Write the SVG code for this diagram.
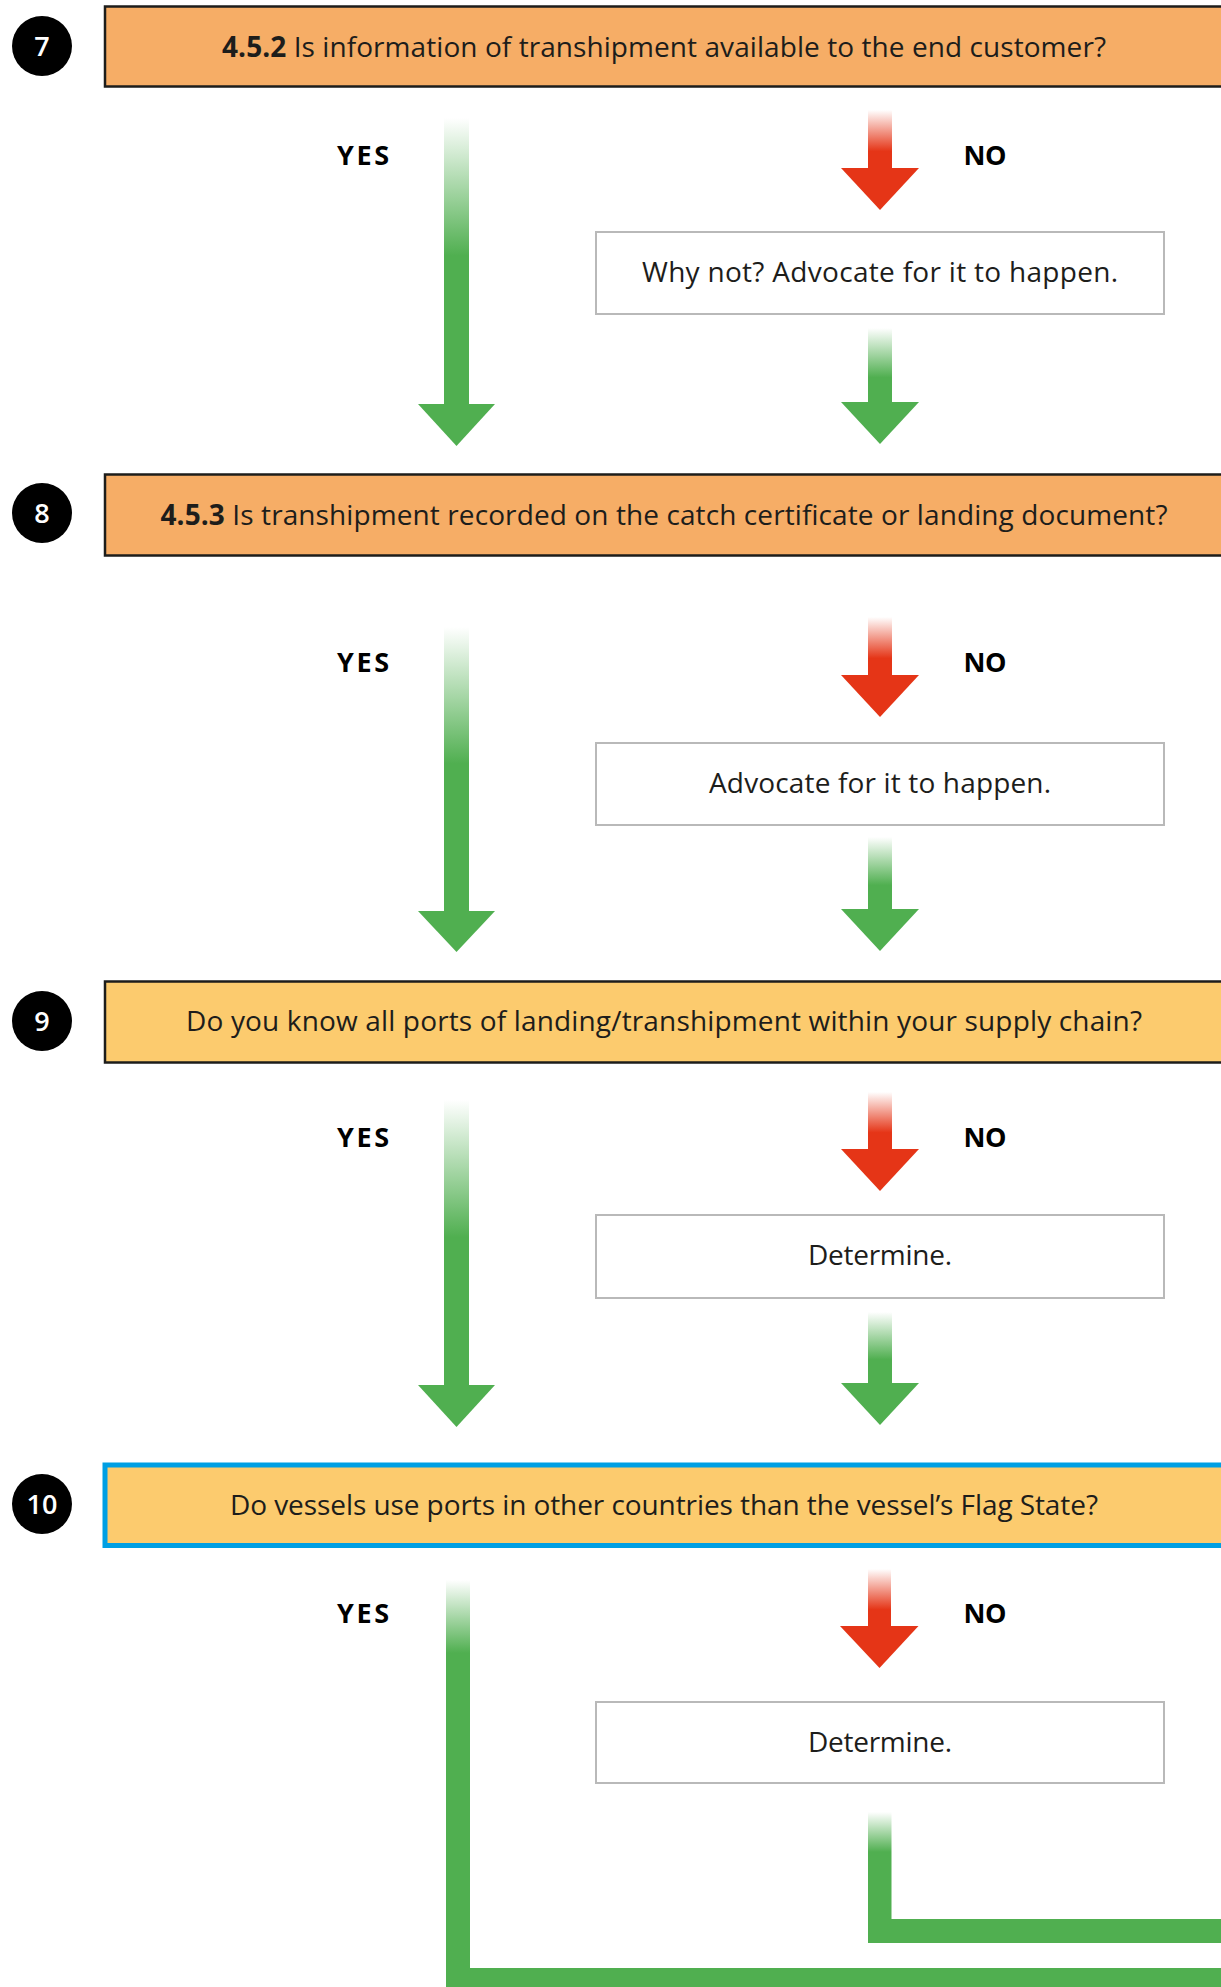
<svg xmlns="http://www.w3.org/2000/svg" width="1221" height="1987" viewBox="0 0 1221 1987">
  <style>
    .q { stroke: #1d1d1b; stroke-width: 2.5; }
    .orange { fill: #F6AD66; }
    .yellow { fill: #FCCB6E; }
    .blue { fill: #FCCB6E; stroke: #009FE3; stroke-width: 5; }
    .act { fill: #ffffff; stroke: #b9b9b9; stroke-width: 2; }
    .num { fill: #000000; }
    .numt { fill: #ffffff; font-family: "Open Sans", "Noto Sans", sans-serif; font-size: 27px; font-weight: 600; text-anchor: middle; }
    .qt { fill: #1d1d1b; font-family: "Open Sans", "Noto Sans", sans-serif; font-size: 28px; text-anchor: middle; }
    .at { fill: #1d1d1b; font-family: "Open Sans", "Noto Sans", sans-serif; font-size: 28px; text-anchor: middle; }
    .lbl { fill: #000000; font-family: "Open Sans", "Noto Sans", sans-serif; font-size: 27px; font-weight: 700; text-anchor: middle; }
    .gh { fill: #50AF50; }
    .rh { fill: #E53517; }
  </style>
  <defs>
    <linearGradient id="gYes" x1="0" y1="0" x2="0" y2="1">
      <stop offset="0" stop-color="#50AF50" stop-opacity="0"/>
      <stop offset="0.48" stop-color="#50AF50" stop-opacity="1"/>
      <stop offset="1" stop-color="#50AF50" stop-opacity="1"/>
    </linearGradient>
    <linearGradient id="gRed" x1="0" y1="0" x2="0" y2="1">
      <stop offset="0" stop-color="#E53517" stop-opacity="0"/>
      <stop offset="0.7" stop-color="#E53517" stop-opacity="1"/>
      <stop offset="1" stop-color="#E53517" stop-opacity="1"/>
    </linearGradient>
    <linearGradient id="gLow" x1="0" y1="0" x2="0" y2="1">
      <stop offset="0" stop-color="#50AF50" stop-opacity="0"/>
      <stop offset="0.66" stop-color="#50AF50" stop-opacity="1"/>
      <stop offset="1" stop-color="#50AF50" stop-opacity="1"/>
    </linearGradient>
    <linearGradient id="gYesL" gradientUnits="userSpaceOnUse" x1="0" y1="1580" x2="0" y2="1653">
      <stop offset="0" stop-color="#50AF50" stop-opacity="0"/>
      <stop offset="1" stop-color="#50AF50" stop-opacity="1"/>
    </linearGradient>
    <linearGradient id="gLowL" gradientUnits="userSpaceOnUse" x1="0" y1="1812" x2="0" y2="1852">
      <stop offset="0" stop-color="#50AF50" stop-opacity="0"/>
      <stop offset="1" stop-color="#50AF50" stop-opacity="1"/>
    </linearGradient>
  </defs>

  <!-- Step 7 -->
  <g id="step7">
    <circle class="num" cx="42" cy="46" r="30"/>
    <text class="numt" x="42" y="55.5">7</text>
    <rect class="q orange" x="105" y="6.5" width="1140" height="80"/>
    <text class="qt" x="664" y="57" textLength="884" lengthAdjust="spacing"><tspan font-weight="700">4.5.2</tspan> Is information of transhipment available to the end customer?</text>
  </g>
  <g id="action7">
    <rect class="act" x="596" y="232" width="568" height="82"/>
    <text class="at" x="880" y="282" textLength="476" lengthAdjust="spacing">Why not? Advocate for it to happen.</text>
  </g>

  <!-- Step 8 -->
  <g id="step8">
    <circle class="num" cx="42" cy="513" r="30"/>
    <text class="numt" x="42" y="522.5">8</text>
    <rect class="q orange" x="105" y="474.5" width="1140" height="81"/>
    <text class="qt" x="664" y="525" textLength="1007" lengthAdjust="spacing"><tspan font-weight="700">4.5.3</tspan> Is transhipment recorded on the catch certificate or landing document?</text>
  </g>
  <g id="action8">
    <rect class="act" x="596" y="743" width="568" height="82"/>
    <text class="at" x="880" y="793" textLength="342" lengthAdjust="spacing">Advocate for it to happen.</text>
  </g>

  <!-- Step 9 -->
  <g id="step9">
    <circle class="num" cx="42" cy="1021" r="30"/>
    <text class="numt" x="42" y="1030.5">9</text>
    <rect class="q yellow" x="105" y="981.5" width="1140" height="81"/>
    <text class="qt" x="664" y="1031" textLength="956" lengthAdjust="spacing">Do you know all ports of landing/transhipment within your supply chain?</text>
  </g>
  <g id="action9">
    <rect class="act" x="596" y="1215" width="568" height="83"/>
    <text class="at" x="880" y="1265" textLength="144" lengthAdjust="spacing">Determine.</text>
  </g>

  <!-- Step 10 -->
  <g id="step10">
    <circle class="num" cx="42" cy="1504" r="30"/>
    <text class="numt" x="42" y="1513.5">10</text>
    <rect class="blue" x="105" y="1465" width="1140" height="80.5"/>
    <text class="qt" x="664" y="1515" textLength="868" lengthAdjust="spacing">Do vessels use ports in other countries than the vessel’s Flag State?</text>
  </g>
  <g id="action10">
    <rect class="act" x="596" y="1702" width="568" height="81"/>
    <text class="at" x="880" y="1752" textLength="144" lengthAdjust="spacing">Determine.</text>
  </g>

  <!-- Connectors -->
  <g id="connectors">
    <!-- step 7 -->
    <text class="lbl" x="363" y="165" textLength="52" lengthAdjust="spacing">YES</text>
    <rect x="444" y="118" width="25" height="287" fill="url(#gYes)"/>
    <polygon class="gh" points="418,404 495,404 456.5,446"/>
    <text class="lbl" x="985" y="165" textLength="43" lengthAdjust="spacing">NO</text>
    <rect x="868" y="110" width="24" height="59" fill="url(#gRed)"/>
    <polygon class="rh" points="841,168 919,168 880,210"/>
    <rect x="868" y="328" width="24" height="75" fill="url(#gLow)"/>
    <polygon class="gh" points="841,402 919,402 880,444"/>

    <!-- step 8 -->
    <text class="lbl" x="363" y="672" textLength="52" lengthAdjust="spacing">YES</text>
    <rect x="444" y="627" width="25" height="285" fill="url(#gYes)"/>
    <polygon class="gh" points="418,911 495,911 456.5,952"/>
    <text class="lbl" x="985" y="672" textLength="43" lengthAdjust="spacing">NO</text>
    <rect x="868" y="617" width="24" height="59" fill="url(#gRed)"/>
    <polygon class="rh" points="841,675 919,675 880,717"/>
    <rect x="868" y="837" width="24" height="73" fill="url(#gLow)"/>
    <polygon class="gh" points="841,909 919,909 880,951"/>

    <!-- step 9 -->
    <text class="lbl" x="363" y="1147" textLength="52" lengthAdjust="spacing">YES</text>
    <rect x="444" y="1100" width="25" height="286" fill="url(#gYes)"/>
    <polygon class="gh" points="418,1385 495,1385 456.5,1427"/>
    <text class="lbl" x="985" y="1147" textLength="43" lengthAdjust="spacing">NO</text>
    <rect x="868" y="1092" width="24" height="58" fill="url(#gRed)"/>
    <polygon class="rh" points="841,1149 919,1149 880,1191"/>
    <rect x="868" y="1312" width="24" height="72" fill="url(#gLow)"/>
    <polygon class="gh" points="841,1383 919,1383 880,1425"/>

    <!-- step 10 -->
    <text class="lbl" x="363" y="1623" textLength="52" lengthAdjust="spacing">YES</text>
    <polygon points="446,1580 470,1580 470,1968 1240,1968 1240,1995 446,1995" fill="url(#gYesL)"/>
    <text class="lbl" x="985" y="1623" textLength="43" lengthAdjust="spacing">NO</text>
    <rect x="868" y="1569" width="23" height="58" fill="url(#gRed)"/>
    <polygon class="rh" points="840,1626 918.5,1626 879.5,1668"/>
    <polygon points="868,1812 891.5,1812 891.5,1919 1240,1919 1240,1943 868,1943" fill="url(#gLowL)"/>
  </g>
</svg>
